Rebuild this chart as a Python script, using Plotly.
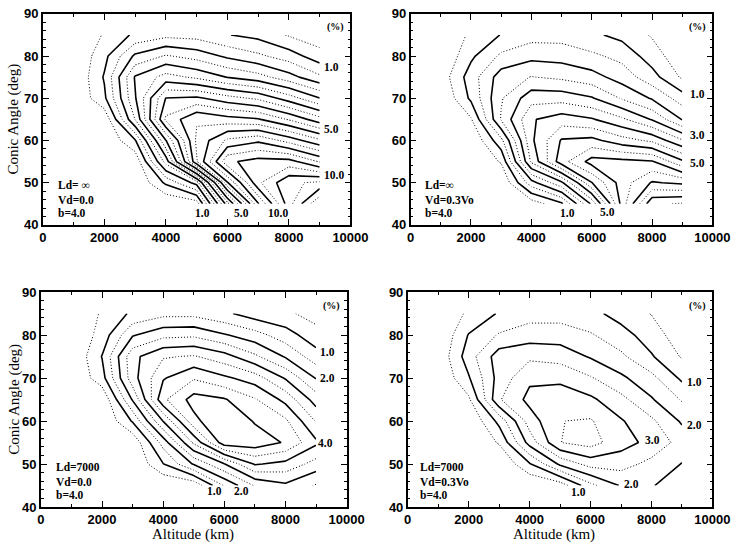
import plotly.graph_objects as go

# ---------------- data ----------------
altitude = [1000, 2000, 3000, 4000, 5000, 6000, 7000, 8000, 9000]   # km
conic_angle = [45, 50, 55, 60, 65, 70, 75, 80, 85]                  # deg

# percentage grids, rows follow conic_angle (45 -> 85), columns follow altitude
pct_ldinf_vd0 = [
    [0, 0, 0, 0, 0.2, 4.3, 7.95, 10.3, 12.0],
    [0, 0, 0, 1.1, 2.2, 6.95, 9.4, 10.4, 10.6],
    [0, 0, 0.1, 2.7, 6.45, 8.9, 9.2, 9.2, 8.45],
    [0, 0, 0.95, 3.98, 6.6, 7.6, 7.9, 7.3, 6.6],
    [0, 0.1, 2.52, 5.6, 6.45, 6.2, 6.05, 5.45, 4.7],
    [0, 0.9, 2.95, 5.02, 5.1, 4.7, 4.4, 3.75, 3.02],
    [0, 1.05, 3.05, 3.7, 3.4, 2.98, 2.7, 2.2, 1.6],
    [0, 0.85, 2.1, 2.55, 2.3, 1.9, 1.6, 1.25, 0.7],
    [0, 0.55, 1.1, 1.35, 1.3, 1.02, 0.85, 0.45, 0.2],
]
pct_ldinf_vd03 = [
    [0, 0, 0, 0.2, 0.9, 3.1, 6.2, 8.4, 8.55],
    [0, 0, 0, 1.8, 2.9, 4.98, 6.25, 7.05, 6.9],
    [0, 0, 0.55, 3.6, 5.3, 6.2, 6.15, 6.05, 5.1],
    [0, 0, 1.35, 3.9, 5.05, 5.15, 4.7, 4.4, 3.55],
    [0, 0.45, 2.55, 3.95, 4.25, 4.05, 3.6, 2.95, 1.97],
    [0, 1.1, 2.45, 3.3, 3.3, 3.05, 2.45, 1.95, 1.25],
    [0.2, 1.25, 2.25, 2.52, 2.4, 2.2, 1.78, 1.2, 0.42],
    [0, 0.9, 1.6, 1.85, 1.8, 1.6, 1.35, 0.75, 0.15],
    [0, 0.6, 1.02, 1.3, 1.3, 1.1, 0.85, 0.45, 0],
]
pct_ld7000_vd0 = [
    [0, 0, 0, 0, 0.1, 1.55, 2.55, 2.9, 2.45],
    [0, 0, 0, 0.98, 2.05, 2.98, 4.05, 3.85, 3.3],
    [0, 0, 0.1, 1.7, 3.6, 5.3, 5.3, 4.95, 4.1],
    [0, 0, 1.05, 3.02, 4.85, 5.5, 4.95, 4.6, 3.46],
    [0, 0.05, 2.05, 4.4, 5.2, 5.05, 4.55, 3.85, 2.77],
    [0, 0.8, 2.8, 3.95, 4.45, 4.1, 3.75, 2.95, 1.97],
    [0, 1.02, 2.85, 3.45, 3.55, 3.2, 2.6, 1.95, 1.22],
    [0, 0.7, 1.95, 2.35, 2.4, 2.05, 1.7, 1.23, 0.69],
    [0.1, 0.55, 1.1, 1.35, 1.35, 1.1, 0.75, 0.6, 0.3],
]
pct_ld7000_vd03 = [
    [0, 0, 0, 0, 0.2, 1.35, 2.05, 2.05, 1.6],
    [0, 0, 0, 0.95, 2.1, 2.7, 2.7, 2.35, 1.98],
    [0, 0, 0.55, 2.2, 3.49, 3.7, 3.2, 2.85, 2.3],
    [0, 0, 1.15, 2.75, 3.49, 3.55, 3.05, 2.6, 1.93],
    [0, 0.4, 2.45, 3.15, 3.25, 3.1, 2.65, 2.05, 1.45],
    [0, 0.95, 2.2, 2.9, 2.9, 2.55, 2.1, 1.65, 0.9],
    [0.1, 1.26, 2.26, 2.4, 2.3, 1.95, 1.6, 1.05, 0.45],
    [0, 1.03, 1.55, 1.75, 1.75, 1.55, 1.2, 0.75, 0.2],
    [0, 0.6, 1.05, 1.3, 1.3, 1.15, 0.8, 0.48, 0],
]

param_texts = [
    ["Ld= \u221e", "Vd=0.0", "b=4.0"],
    ["Ld=\u221e", "Vd=0.3Vo", "b=4.0"],
    ["Ld=7000", "Vd=0.0", "b=4.0"],
    ["Ld=7000", "Vd=0.3Vo", "b=4.0"],
]
x_ticks = [0, 2000, 4000, 6000, 8000, 10000]
x_ticktext = ["0", "2000", "4000", "6000", "8000", "10000"]
y_ticks = [40, 50, 60, 70, 80, 90]

# contour label texts with their placements (label, x, y, anchor)
contour_labels = [
    [("1.0", 9060, 77.3, "left"), ("5.0", 9060, 62.8, "left"), ("10.0", 9060, 51.9, "left"),
     ("1.0", 5200, 42.8, "center"), ("5.0", 6450, 42.8, "center"), ("10.0", 7650, 42.8, "center")],
    [("1.0", 9200, 70.9, "left"), ("3.0", 9200, 61.3, "left"), ("5.0", 9200, 54.7, "left"),
     ("1.0", 5190, 42.8, "center"), ("5.0", 6530, 43.0, "center")],
    [("1.0", 9060, 76.0, "left"), ("2.0", 9060, 69.9, "left"), ("4.0", 9000, 54.9, "left"),
     ("1.0", 5670, 43.7, "center"), ("2.0", 6570, 43.7, "center")],
    [("1.0", 9110, 69.0, "left"), ("2.0", 9110, 59.1, "left"), ("3.0", 7730, 55.5, "left"),
     ("2.0", 7360, 45.3, "center"), ("1.0", 5600, 43.6, "center")],
]

# ---------------- figure ----------------
W, H = 745, 552
panel_px = [  # (x0, x1, y_top, y_bottom) in pixels
    (40, 357, 7, 224),
    (419, 730, 7, 224),
    (38, 353, 293, 514),
    (416, 730, 293, 514),
]
grids = [pct_ldinf_vd0, pct_ldinf_vd03, pct_ld7000_vd0, pct_ld7000_vd03]

serif = "Liberation Serif"
fig = go.Figure()
annotations = []
for i, z in enumerate(grids):
    n = "" if i == 0 else str(i + 1)
    xa, ya = "x" + n, "y" + n
    fig.add_trace(go.Contour(
        x=altitude, y=conic_angle, z=z, xaxis=xa, yaxis=ya,
        autocontour=False,
        contours=dict(start=0.5, end=13.5, size=1, coloring="none"),
        line=dict(color="black", width=1, dash="1px,2px", smoothing=0),
        showscale=False, hoverinfo="skip"))
    fig.add_trace(go.Contour(
        x=altitude, y=conic_angle, z=z, xaxis=xa, yaxis=ya,
        autocontour=False,
        contours=dict(start=1, end=13, size=1, coloring="none"),
        line=dict(color="black", width=1.6, dash="solid", smoothing=0),
        showscale=False, hoverinfo="skip"))
    x0, x1, yt, yb = panel_px[i]
    axis_common = dict(showgrid=False, zeroline=False, showline=True, linecolor="black",
                       linewidth=1.5, mirror="allticks", ticks="inside", tickcolor="black",
                       tickwidth=1.2, ticklen=6,
                       tickfont=dict(family="Liberation Sans", size=13, color="black", weight="bold"))
    fig.layout["xaxis" + n] = dict(axis_common, domain=[x0 / W, x1 / W], range=[0, 10000],
                                   tickvals=x_ticks, ticktext=x_ticktext, anchor=ya,
                                   minor=dict(dtick=1000, ticks="inside", ticklen=3, tickcolor="black"))
    fig.layout["yaxis" + n] = dict(axis_common, domain=[1 - yb / H, 1 - yt / H], range=[40, 90],
                                   tickvals=y_ticks, anchor=xa,
                                   minor=dict(dtick=2, ticks="inside", ticklen=3, tickcolor="black"))
    # parameter text block
    for k, t in enumerate(param_texts[i]):
        annotations.append(dict(xref=xa, yref=ya, x=420 if i < 3 else 350,
                                y=[49.4, 45.9, 42.9][k], text=t, showarrow=False,
                                xanchor="left", yanchor="middle",
                                font=dict(family=serif, size=11.5, color="black", weight="bold")))
    annotations.append(dict(xref=xa, yref=ya, x=9500, y=86.8, text="(%)", showarrow=False,
                            xanchor="center", yanchor="middle",
                            font=dict(family=serif, size=10, color="black", weight="bold")))
    for (t, lx, ly, anc) in contour_labels[i]:
        annotations.append(dict(xref=xa, yref=ya, x=lx, y=ly, text=t, showarrow=False,
                                xanchor=anc, yanchor="middle",
                                font=dict(family=serif, size=11.5, color="black", weight="bold")))

# axis titles
for yc in [1 - 115 / H, 1 - 403 / H]:
    annotations.append(dict(xref="paper", yref="paper", x=10 / W, y=yc, text="Conic Angle (deg)",
                            textangle=-90, showarrow=False, xanchor="center", yanchor="middle",
                            font=dict(family=serif, size=15, color="black")))
for xc in [195 / W, 567 / W]:
    annotations.append(dict(xref="paper", yref="paper", x=xc, y=1 - 542 / H, text="Altitude (km)",
                            showarrow=False, xanchor="center", yanchor="middle",
                            font=dict(family=serif, size=15, color="black")))

fig.update_layout(width=W, height=H, margin=dict(l=0, r=0, t=0, b=0),
                  paper_bgcolor="white", plot_bgcolor="white", showlegend=False,
                  annotations=annotations)
fig.write_html("out.html")
